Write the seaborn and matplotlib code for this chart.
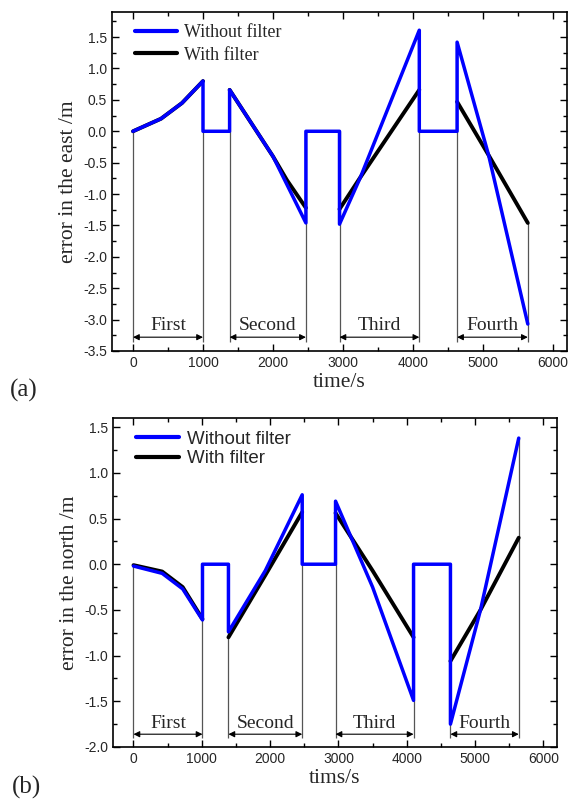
import numpy as np
import pandas as pd
import seaborn as sns
import matplotlib.pyplot as plt
from matplotlib.lines import Line2D
from matplotlib.ticker import MultipleLocator

# ---- data ----
# (a) east error, without filter (blue)
t_east_raw = [0, 400, 700, 1000, 1000, 1380, 1380, 2000, 2470, 2470, 2950, 2950, 3250, 4090, 4090, 4630, 4630, 5080, 5640]
e_east_raw = [0.0, 0.2, 0.45, 0.8, 0.0, 0.0, 0.66, -0.4, -1.46, 0.0, 0.0, -1.48, -0.73, 1.61, 0.0, 0.0, 1.42, -0.38, -3.07]
# (a) east error, with filter (black), one run per segment
t_east_flt = [0, 400, 700, 1000, 1380, 2000, 2200, 2470, 2950, 3250, 4090, 4630, 5080, 5640]
e_east_flt = [0.0, 0.2, 0.45, 0.8, 0.66, -0.4, -0.78, -1.22, -1.24, -0.73, 0.66, 0.47, -0.38, -1.46]
seg_east_flt = [1, 1, 1, 1, 2, 2, 2, 2, 3, 3, 3, 4, 4, 4]

# (b) north error, without filter (blue)
t_north_raw = [0, 420, 720, 1010, 1010, 1390, 1390, 1930, 2470, 2470, 2958, 2958, 3500, 4100, 4100, 4640, 4640, 5080, 5640]
e_north_raw = [-0.02, -0.1, -0.27, -0.61, 0.0, 0.0, -0.74, -0.07, 0.76, 0.0, 0.0, 0.69, -0.25, -1.49, 0.0, 0.0, -1.75, -0.5, 1.38]
# (b) north error, with filter (black)
t_north_flt = [0, 420, 720, 1010, 1390, 1930, 2470, 2958, 3500, 4100, 4640, 5080, 5640]
e_north_flt = [-0.01, -0.08, -0.25, -0.6, -0.8, -0.12, 0.57, 0.56, -0.07, -0.8, -1.06, -0.5, 0.29]
seg_north_flt = [1, 1, 1, 1, 2, 2, 2, 3, 3, 3, 4, 4, 4]

stage_names = ["First", "Second", "Third", "Fourth"]
stage_east = [(0, 1000), (1380, 2470), (2950, 4090), (4630, 5640)]
stage_north = [(0, 1010), (1390, 2470), (2958, 4100), (4640, 5640)]
# boundary guide lines: (time, upper end)
guide_east = [(0, 0.0), (1000, 0.0), (1380, 0.0), (2470, 0.0), (2950, 0.0), (4090, 0.0), (4630, 0.0), (5640, -1.46)]
guide_north = [(0, 0.0), (1010, -0.6), (1390, -0.74), (2470, 0.0), (2958, 0.0), (4100, -1.49), (4640, -1.75), (5640, 1.38)]

sns.set_theme(style="ticks")
plt.rcParams['font.family'] = ['Liberation Sans', 'DejaVu Sans']
plt.rcParams['xtick.direction'] = 'in'
plt.rcParams['ytick.direction'] = 'in'
serif = ['Liberation Serif', 'DejaVu Serif']

fig = plt.figure(figsize=(5.69, 8.0), dpi=100)
ax1 = fig.add_axes([112 / 569, 1 - 351 / 800, (567 - 112) / 569, (351 - 12) / 800])
ax2 = fig.add_axes([113 / 569, 1 - 747 / 800, (557 - 113) / 569, (747 - 418) / 800])


def draw(ax, t_raw, e_raw, t_flt, e_flt, seg_flt, stages, guides, ylim, yarrow, ybottom,
         xlabel, ylabel, legend_family, legend_size, legend_spacing):
    df_flt = pd.DataFrame({'t': t_flt, 'e': e_flt, 'seg': seg_flt})
    df_raw = pd.DataFrame({'t': t_raw, 'e': e_raw, 'seg': 0})
    for t, top in guides:
        ax.vlines(t, ybottom, top, color='#555555', lw=0.9, zorder=1)
    sns.lineplot(data=df_flt, x='t', y='e', units='seg', estimator=None, sort=False,
                 color='black', lw=2.8, ax=ax, zorder=2,
                 solid_capstyle='round', solid_joinstyle='round')
    sns.lineplot(data=df_raw, x='t', y='e', units='seg', estimator=None, sort=False,
                 color='#0000ff', lw=2.5, ax=ax, zorder=3,
                 solid_capstyle='round', solid_joinstyle='round')
    for name, (a, b) in zip(stage_names, stages):
        ax.annotate('', xy=(b, yarrow), xytext=(a, yarrow),
                    arrowprops=dict(arrowstyle='<|-|>', color='black', lw=0.8,
                                    mutation_scale=9, shrinkA=0, shrinkB=0))
        ax.text((a + b) / 2, yarrow + (ylim[1] - ylim[0]) * 0.008, name, ha='center', va='bottom',
                fontsize=14, family=serif)
    ax.set_xlim(-300, 6200)
    ax.set_ylim(*ylim)
    ax.xaxis.set_major_locator(MultipleLocator(1000))
    ax.xaxis.set_minor_locator(MultipleLocator(500))
    ax.yaxis.set_major_locator(MultipleLocator(0.5))
    ax.yaxis.set_minor_locator(MultipleLocator(0.25))
    ax.yaxis.set_major_formatter(plt.FormatStrFormatter('%.1f'))
    ax.tick_params(which='both', top=True, right=True, labelsize=10, width=1.0, color='black')
    ax.tick_params(which='major', length=5)
    ax.tick_params(which='minor', length=3)
    for s in ax.spines.values():
        s.set_linewidth(1.2)
        s.set_color('black')
    ax.set_xlabel(xlabel, fontsize=15.5, family=serif, labelpad=2)
    ax.set_ylabel(ylabel, fontsize=15.5, family=serif, labelpad=4)
    handles = [Line2D([], [], color='#0000ff', lw=3), Line2D([], [], color='black', lw=3)]
    ax.legend(handles, ['Without filter', 'With filter'], loc='upper left',
              bbox_to_anchor=(0.035, 0.985), frameon=False, handlelength=2.3,
              handletextpad=0.4, labelspacing=legend_spacing, borderaxespad=0,
              prop={'family': legend_family, 'size': legend_size})


draw(ax1, t_east_raw, e_east_raw, t_east_flt, e_east_flt, seg_east_flt, stage_east, guide_east,
     (-3.5, 1.9), -3.28, -3.36, 'time/s', 'error in the east /m', serif, 13, 0.3)
draw(ax2, t_north_raw, e_north_raw, t_north_flt, e_north_flt, seg_north_flt, stage_north, guide_north,
     (-2.0, 1.6), -1.86, -1.9, 'tims/s', 'error in the north /m', 'Liberation Sans', 13.5, 0.15)

fig.text(10 / 569, 1 - 390 / 800, '(a)', fontsize=18, family=serif, va='center')
fig.text(12 / 569, 1 - 787 / 800, '(b)', fontsize=18, family=serif, va='center')

plt.savefig('out.png', dpi=100)
